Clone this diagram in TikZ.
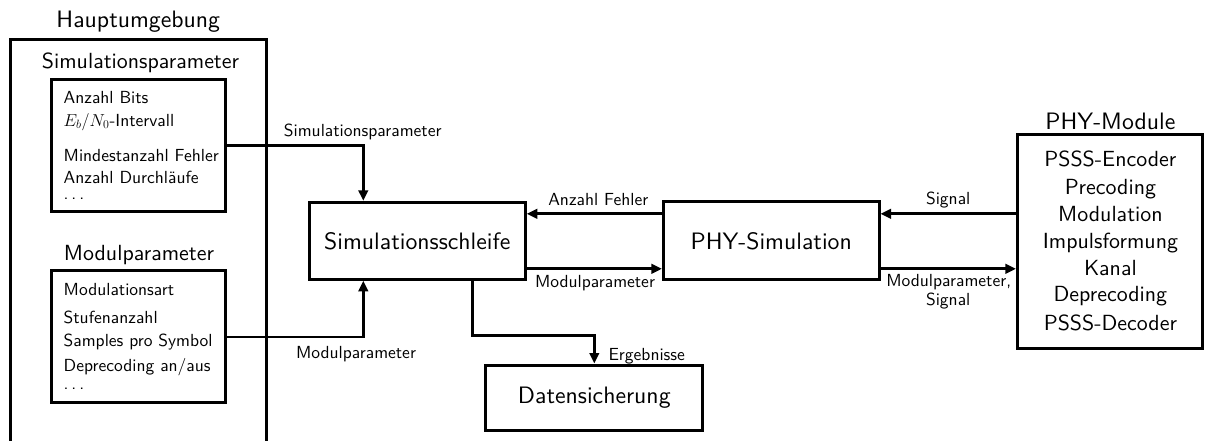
\documentclass[tikz,border=0pt]{standalone}
\usepackage{fontspec}
\setsansfont{lmsans10-regular.otf}
\usetikzlibrary{arrows.meta}
\newcommand{\mydots}{.\kern0.167em.\kern0.167em.}
\begin{document}
\begin{tikzpicture}[x=1pt,y=1pt,
  font=\sffamily,
  box/.style={draw,line width=3pt,inner sep=0pt},
  arr/.style={line width=2.7pt,-{Triangle[length=10.5pt,width=9.5pt]}},
  big/.style={font=\sffamily\fontsize{23.75}{28}\selectfont},
  head/.style={font=\sffamily\fontsize{21.9}{26}\selectfont},
  sm/.style={font=\sffamily\fontsize{17.5}{21}\selectfont},
  lst/.style={sm,anchor=base west,inner sep=0pt},
  lbl/.style={sm,anchor=base,inner sep=0pt},
  ctr/.style={anchor=base,inner sep=0pt}]
\useasboundingbox (0,0) rectangle (1205,-441);
% Hauptumgebung
\draw[line width=3pt] (10,-443) -- (10,-40) -- (266.5,-40) -- (266.5,-443);
\node[big,ctr] (hu) at (138.3,-28) {Hauptumgebung};
% Simulationsparameter
\node[head,ctr] (sph) at (140.5,-68.3) {Simulationsparameter};
\node[box,minimum width=174.2pt,minimum height=132.2pt] (sp) at (138.4,-145.4) {};
\node[lst] (sp1) at (63.5,-104) {Anzahl Bits};
\node[lst] (sp2) at (63.5,-126.3) {$E_b/N_0$-Intervall};
\node[lst] (sp3) at (63.5,-162) {Mindestanzahl Fehler};
\node[lst] (sp4) at (63.5,-183.5) {Anzahl Durchläufe};
\node[lst] (sp5) at (63.5,-199.5) {\mydots};
% Modulparameter
\node[head,ctr] (mph) at (139,-260) {Modulparameter};
\node[box,minimum width=174.2pt,minimum height=132pt] (mp) at (138.4,-336) {};
\node[lst] (mp1) at (63.5,-295.5) {Modulationsart};
\node[lst] (mp2) at (63.5,-323.3) {Stufenanzahl};
\node[lst] (mp3) at (63.5,-346.3) {Samples pro Symbol};
\node[lst] (mp4) at (63.5,-371) {Deprecoding an/aus};
\node[lst] (mp5) at (63.5,-389.5) {\mydots};
% main boxes
\node[box,big,minimum width=216pt,minimum height=77pt] (ss) at (417.3,-240.8) {Simulationsschleife};
\node[box,big,minimum width=215.6pt,minimum height=78pt] (ps) at (771.2,-240.8) {PHY-Simulation};
\node[box,big,minimum width=216.7pt,minimum height=65pt] (ds) at (594.3,-397.5) {Datensicherung};
\node[box,minimum width=185.2pt,minimum height=214pt] (pm) at (1110,-241.3) {};
\node[big,ctr] (pmh) at (1110.4,-129.3) {PHY-Module};
\node[head,ctr] (pm1) at (1110.4,-167) {PSSS-Encoder};
\node[head,ctr] (pm2) at (1110.4,-194) {Precoding};
\node[head,ctr] (pm3) at (1110.4,-221.5) {Modulation};
\node[head,ctr] (pm4) at (1110.4,-248.5) {Impulsformung};
\node[head,ctr] (pm5) at (1110.4,-275.5) {Kanal};
\node[head,ctr] (pm6) at (1110.4,-301.5) {Deprecoding};
\node[head,ctr] (pm7) at (1110.4,-330) {PSSS-Decoder};
% connectors
\draw[arr] (sp.east) -| ([xshift=-54pt]ss.north);
\draw[arr] ([yshift=-1pt]mp.east) -| ([xshift=-54pt]ss.south);
\draw[arr] ([xshift=55pt]ss.south) |- ([yshift=28.3pt]ds.north) -- (ds.north);
\draw[arr] ([yshift=27pt]ps.west) -- ([yshift=27pt]ss.east);
\draw[arr] ([yshift=-28pt]ss.east) -- ([yshift=-28pt]ps.west);
\draw[arr] ([yshift=27.5pt]pm.west) -- ([yshift=27pt]ps.east);
\draw[arr] ([yshift=-28pt]ps.east) -- ([yshift=-27.5pt]pm.west);
% labels
\node[lbl] (l1) at (362.7,-136.7) {Simulationsparameter};
\node[lbl] (l2) at (356,-358) {Modulparameter};
\node[lbl] (l3) at (598.3,-205) {Anzahl Fehler};
\node[lbl] (l4) at (595,-287) {Modulparameter};
\node[lst] (l5) at (608.3,-360.5) {Ergebnisse};
\node[lbl] (l6) at (948.2,-204.5) {Signal};
\node[lbl] (l7) at (948.7,-286) {Modulparameter,};
\node[lbl] (l8) at (948.2,-305.7) {Signal};
\end{tikzpicture}
\end{document}
